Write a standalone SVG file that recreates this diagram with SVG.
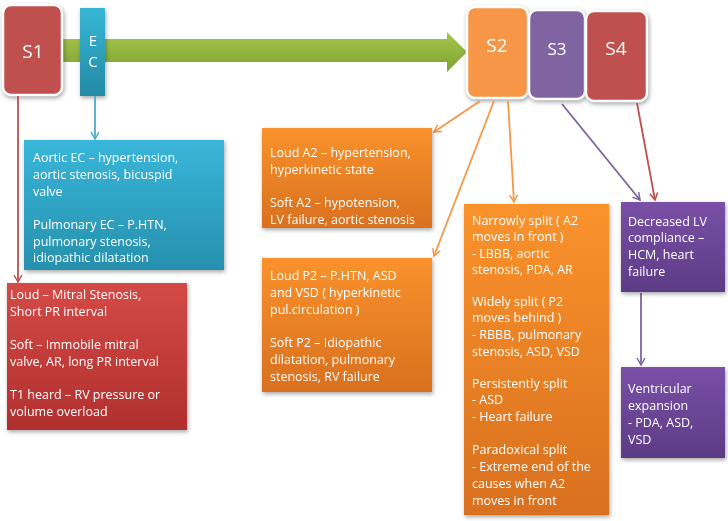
<svg xmlns="http://www.w3.org/2000/svg" width="728" height="521" viewBox="0 0 728 521">
<defs>
<linearGradient id="gR" x1="0" y1="0" x2="0" y2="1"><stop offset="0" stop-color="#d44a46"/><stop offset="1" stop-color="#b0302e"/></linearGradient>
<linearGradient id="gB" x1="0" y1="0" x2="0" y2="1"><stop offset="0" stop-color="#39b6da"/><stop offset="1" stop-color="#2690ad"/></linearGradient>
<linearGradient id="gO" x1="0" y1="0" x2="0" y2="1"><stop offset="0" stop-color="#fa922c"/><stop offset="1" stop-color="#d8701f"/></linearGradient>
<linearGradient id="gP" x1="0" y1="0" x2="0" y2="1"><stop offset="0" stop-color="#7a50a6"/><stop offset="1" stop-color="#5d3b85"/></linearGradient>
<linearGradient id="gG" x1="0" y1="0" x2="0" y2="1"><stop offset="0" stop-color="#a5c84e"/><stop offset="1" stop-color="#7ea232"/></linearGradient>
<linearGradient id="gEC" x1="0" y1="0" x2="0" y2="1"><stop offset="0" stop-color="#38b6d6"/><stop offset="1" stop-color="#238aa6"/></linearGradient>
<marker id="aR" markerWidth="10" markerHeight="10" refX="8" refY="5" orient="auto" markerUnits="userSpaceOnUse"><path d="M1,1 L8,5 L1,9" fill="none" stroke="#c0504d" stroke-width="1.5"/></marker>
<marker id="aB" markerWidth="10" markerHeight="10" refX="8" refY="5" orient="auto" markerUnits="userSpaceOnUse"><path d="M1,1 L8,5 L1,9" fill="none" stroke="#4bacc6" stroke-width="1.5"/></marker>
<marker id="aO" markerWidth="10" markerHeight="10" refX="8" refY="5" orient="auto" markerUnits="userSpaceOnUse"><path d="M1,1 L8,5 L1,9" fill="none" stroke="#f79646" stroke-width="1.5"/></marker>
<marker id="aP" markerWidth="10" markerHeight="10" refX="8" refY="5" orient="auto" markerUnits="userSpaceOnUse"><path d="M1,1 L8,5 L1,9" fill="none" stroke="#8064a2" stroke-width="1.5"/></marker>
</defs>
<style>
text{font-family:"Open Sans","Liberation Sans",sans-serif;fill:#fff;font-size:12.5px}
.h{font-size:19px;text-anchor:middle}
.box{filter:drop-shadow(1px 2px 2px rgba(0,0,0,0.35))}
.c{fill:none;stroke-width:1.8}
</style>
<g id="arrow"><path d="M62,39 H447 V32 L467,52 L447,72 V62 H62 Z" fill="url(#gG)"/></g>
<g id="s1" class="box"><rect x="3" y="5" width="59" height="90" rx="8" fill="#c0504d" stroke="#fff" stroke-width="2.5"/><text class="h" x="33" y="58">S1</text></g>
<g id="ec" class="box"><rect x="80" y="8" width="25" height="88" fill="url(#gEC)"/><text class="h" x="93" y="46" style="font-size:15px">E</text><text class="h" x="93" y="67" style="font-size:15px">C</text></g>
<g id="s2" class="box"><rect x="467" y="7" width="61" height="91" rx="8" fill="#f79646" stroke="#fff" stroke-width="2.5"/><text class="h" x="497" y="52">S2</text></g>
<g id="s3" class="box"><rect x="529" y="10" width="56" height="89" rx="8" fill="#8064a2" stroke="#fff" stroke-width="2.5"/><text class="h" x="557" y="55" style="font-size:17px">S3</text></g>
<g id="s4" class="box"><rect x="586" y="11" width="61" height="90" rx="8" fill="#c0504d" stroke="#fff" stroke-width="2.5"/><text class="h" x="616" y="55">S4</text></g>
<g id="connectors">
<line class="c" x1="18" y1="96" x2="18" y2="282" stroke="#c0504d" marker-end="url(#aR)"/>
<line class="c" x1="95" y1="96" x2="95" y2="139" stroke="#4bacc6" marker-end="url(#aB)"/>
<line class="c" x1="480" y1="101" x2="434" y2="132" stroke="#f79646" marker-end="url(#aO)"/>
<line class="c" x1="494" y1="101" x2="434" y2="256" stroke="#f79646" marker-end="url(#aO)"/>
<line class="c" x1="508" y1="101" x2="514" y2="202" stroke="#f79646" marker-end="url(#aO)"/>
<line class="c" x1="562" y1="104" x2="640" y2="200" stroke="#8064a2" marker-end="url(#aP)"/>
<line class="c" x1="637" y1="103" x2="655" y2="200" stroke="#c0504d" marker-end="url(#aR)"/>
<line class="c" x1="641" y1="293" x2="641" y2="365" stroke="#8064a2" marker-end="url(#aP)"/>
</g>
<g id="ecbox" class="box"><rect x="24" y="140" width="200" height="130" fill="url(#gB)"/>
<text x="33" y="162">Aortic EC – hypertension,</text><text x="33" y="179">aortic stenosis, bicuspid</text><text x="33" y="196">valve</text>
<text x="33" y="229">Pulmonary EC – P.HTN,</text><text x="33" y="246">pulmonary stenosis,</text><text x="33" y="262">idiopathic dilatation</text></g>
<g id="s1box" class="box"><rect x="7" y="283" width="180" height="147" fill="url(#gR)"/>
<text x="10" y="299">Loud – Mitral Stenosis,</text><text x="10" y="316">Short PR interval</text>
<text x="10" y="349">Soft – Immobile mitral</text><text x="10" y="366">valve, AR, long PR interval</text>
<text x="10" y="399">T1 heard – RV pressure or</text><text x="10" y="416">volume overload</text></g>
<g id="a2box" class="box"><rect x="262" y="128" width="170" height="100" fill="url(#gO)"/>
<text x="270" y="157">Loud A2 – hypertension,</text><text x="270" y="174">hyperkinetic state</text>
<text x="270" y="207">Soft A2 – hypotension,</text><text x="270" y="224">LV failure, aortic stenosis</text></g>
<g id="p2box" class="box"><rect x="262" y="258" width="170" height="134" fill="url(#gO)"/>
<text x="270" y="280">Loud P2 – P.HTN, ASD</text><text x="270" y="297">and VSD ( hyperkinetic</text><text x="270" y="314">pul.circulation )</text>
<text x="270" y="347">Soft P2 – Idiopathic</text><text x="270" y="364">dilatation, pulmonary</text><text x="270" y="381">stenosis, RV failure</text></g>
<g id="splitbox" class="box"><rect x="464" y="204" width="145" height="311" fill="url(#gO)"/>
<text x="472" y="225">Narrowly split ( A2</text><text x="472" y="241">moves in front )</text><text x="472" y="258">- LBBB, aortic</text><text x="472" y="274">stenosis, PDA, AR</text>
<text x="472" y="306">Widely split ( P2</text><text x="472" y="322">moves behind )</text><text x="472" y="339">- RBBB, pulmonary</text><text x="472" y="356">stenosis, ASD, VSD</text>
<text x="472" y="388">Persistently split</text><text x="472" y="404">- ASD</text><text x="472" y="421">- Heart failure</text>
<text x="472" y="454">Paradoxical split</text><text x="472" y="471">- Extreme end of the</text><text x="472" y="488">causes when A2</text><text x="472" y="505">moves in front</text></g>
<g id="lvbox" class="box"><rect x="621" y="202" width="104" height="90" fill="url(#gP)"/>
<text x="628" y="226">Decreased LV</text><text x="628" y="242">compliance –</text><text x="628" y="259">HCM, heart</text><text x="628" y="276">failure</text></g>
<g id="vebox" class="box"><rect x="621" y="367" width="104" height="91" fill="url(#gP)"/>
<text x="628" y="393">Ventricular</text><text x="628" y="410">expansion</text><text x="628" y="427">- PDA, ASD,</text><text x="628" y="444">VSD</text></g>
</svg>
